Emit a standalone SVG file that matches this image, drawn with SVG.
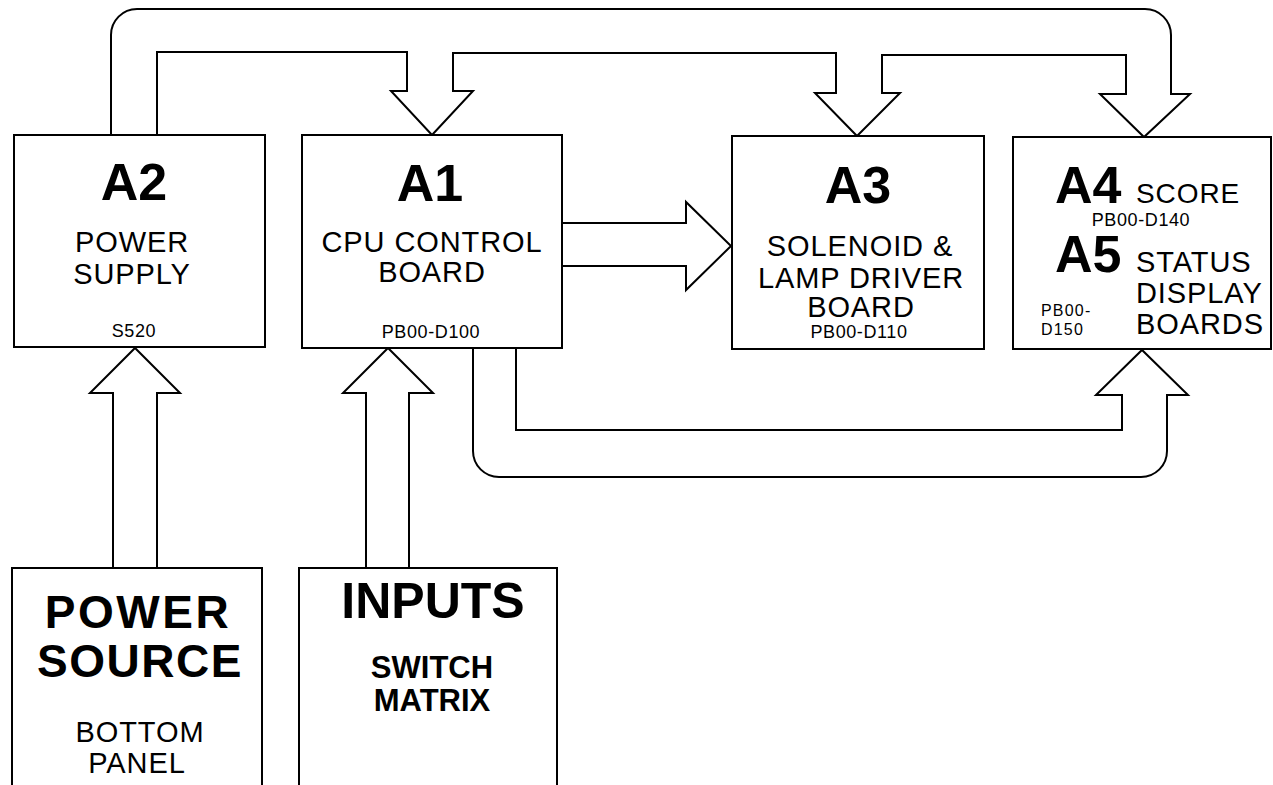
<svg xmlns="http://www.w3.org/2000/svg" width="1273" height="785" viewBox="0 0 1273 785">
<style>
.box{fill:#fff;stroke:#000;stroke-width:2}
.con{fill:#fff;stroke:#000;stroke-width:2;stroke-linejoin:miter}
text{font-family:"Liberation Sans",Arial,sans-serif;fill:#000}
.big{font-size:52px;font-weight:bold}
.huge{font-size:46px;font-weight:bold;letter-spacing:2.5px}
.mid{font-size:29px;letter-spacing:0.9px}
.sm{font-size:18px;letter-spacing:0.6px}
.c{text-anchor:middle}
</style>
<rect width="1273" height="785" fill="#fff"/>
<g id="connectors">
<path class="con" d="M111,135 V35 A26,26 0 0 1 137,9 H1145 A26,26 0 0 1 1171,35 V94 H1190 L1144,137 L1100,94 H1126 V55 H882 V93 H900 L857,136 L815,93 H836 V53 H453 V91 H473 L432,135 L391,91 H407 V52 H157 V135"/>
<path class="con" d="M562,223 H686 V202 L731,246 L686,290 V266 H562"/>
<path class="con" d="M473,348 V451 A26,26 0 0 0 499,477 H1141 A26,26 0 0 0 1167,451 V395 H1188 L1142,350 L1096,395 H1122 V430 H516 V348"/>
<path class="con" d="M113,568 V393 H90 L135,348 L180,393 H157 V568"/>
<path class="con" d="M366,568 V393 H343 L388,348 L433,393 H409 V568"/>
</g>
<g id="A2">
<rect class="box" x="14" y="135" width="251" height="212"/>
<text class="big c" x="134" y="200">A2</text>
<text class="mid c" x="132" y="252">POWER</text>
<text class="mid c" x="132" y="284">SUPPLY</text>
<text class="sm c" x="134" y="337">S520</text>
</g>
<g id="A1">
<rect class="box" x="302" y="135" width="260" height="213"/>
<text class="big c" x="430" y="201">A1</text>
<text class="mid c" x="432" y="252">CPU CONTROL</text>
<text class="mid c" x="432" y="282">BOARD</text>
<text class="sm c" x="431" y="338">PB00-D100</text>
</g>
<g id="A3">
<rect class="box" x="732" y="136" width="252" height="213"/>
<text class="big c" x="858" y="203">A3</text>
<text class="mid c" x="860" y="256">SOLENOID &amp;</text>
<text class="mid c" x="861" y="288">LAMP DRIVER</text>
<text class="mid c" x="861" y="317">BOARD</text>
<text class="sm c" x="859" y="338">PB00-D110</text>
</g>
<g id="A4A5">
<rect class="box" x="1013" y="137" width="258" height="212"/>
<text class="big" x="1055" y="203">A4</text>
<text class="mid" x="1136" y="203" style="font-size:28px">SCORE</text>
<text class="sm c" x="1141" y="226">PB00-D140</text>
<text class="big" x="1055" y="272">A5</text>
<text class="mid" x="1136" y="272">STATUS</text>
<text class="mid" x="1136" y="303">DISPLAY</text>
<text class="mid" x="1136" y="334">BOARDS</text>
<text x="1041" y="316" style="font-size:16px;letter-spacing:1.2px">PB00-</text>
<text x="1041" y="335" style="font-size:16px;letter-spacing:1.2px">D150</text>
</g>
<g id="power-source">
<rect class="box" x="12" y="568" width="250" height="230"/>
<text class="huge c" x="138" y="628">POWER</text>
<text class="huge c" x="140" y="677" style="letter-spacing:1.5px">SOURCE</text>
<text class="mid c" x="140" y="742">BOTTOM</text>
<text class="mid c" x="137" y="773">PANEL</text>
</g>
<g id="inputs">
<rect class="box" x="299" y="568" width="258" height="230"/>
<text class="huge c" x="433" y="618" style="font-size:50px;letter-spacing:0">INPUTS</text>
<text class="c" x="432" y="678" style="font-size:31px;font-weight:bold">SWITCH</text>
<text class="c" x="432" y="711" style="font-size:31px;font-weight:bold">MATRIX</text>
</g>
</svg>
